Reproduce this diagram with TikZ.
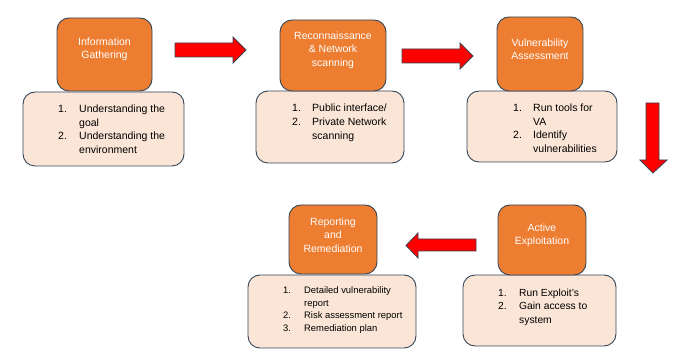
\documentclass[tikz,border=0pt]{standalone}
\usepackage{fontspec}
\setmainfont{Liberation Sans}
\usepackage{array}
\definecolor{orangefill}{HTML}{ED7D31}
\definecolor{lightfill}{HTML}{FBE5D6}
\definecolor{edge}{HTML}{34465A}
\definecolor{arrowred}{HTML}{FF0000}
\definecolor{arrowedge}{HTML}{3C4050}
\begin{document}
\begin{tikzpicture}[x=1pt,y=-1pt,
  titlebox/.style={draw=edge, line width=0.9pt, fill=orangefill, rounded corners=12pt, inner sep=0pt},
  listbox/.style={draw=edge, line width=0.9pt, fill=lightfill, rounded corners=12pt, inner sep=0pt},
  titletext/.style={text=white, align=center, inner sep=0pt, font=\fontsize{10.5}{13.5}\selectfont},
  listtext/.style={anchor=base west, inner sep=0pt, text=black},
  redarrow/.style={draw=arrowedge, line width=0.8pt, fill=arrowred, line join=miter}]
\useasboundingbox (0,0) rectangle (673,363);

% light list boxes (drawn first)
\node[listbox, minimum width=161pt, minimum height=74pt] (l1) at (103.5,129) {};
\node[listbox, minimum width=148pt, minimum height=72pt] (l2) at (330,127) {};
\node[listbox, minimum width=150pt, minimum height=71pt] (l3) at (542,126.5) {};
\node[listbox, minimum width=153pt, minimum height=71pt] (l4) at (539.5,310.5) {};
\node[listbox, minimum width=168pt, minimum height=73pt] (l5) at (332,311.5) {};

% orange title boxes
\node[titlebox, minimum width=95pt, minimum height=73pt] (o1) at (104.5,54.5) {};
\node[titlebox, minimum width=106pt, minimum height=71pt] (o2) at (333,55.5) {};
\node[titlebox, minimum width=86pt, minimum height=74pt] (o3) at (540,54) {};
\node[titlebox, minimum width=88pt, minimum height=70pt] (o4) at (542,240) {};
\node[titlebox, minimum width=88pt, minimum height=69pt] (o5) at (333,239.5) {};

% titles
\node[titletext] (t1) at (104.5,49.5) {Information\\Gathering};
\node[titletext] (t2) at (333,50) {Reconnaissance\\\& Network\\scanning};
\node[titletext] (t3) at (540,49.5) {Vulnerability\\Assessment};
\node[titletext] (t4) at (542,235.5) {Active\\Exploitation};
\node[titletext] (t5) at (333,235) {Reporting\\and\\Remediation};

% lists
\node[listtext] (x1) at (58,113) {\fontsize{10.5}{13.5}\selectfont
  \begin{tabular}[t]{@{}p{21pt}@{}l@{}}1. & Understanding the\\ & goal\\ 2. & Understanding the\\ & environment\end{tabular}};
\node[listtext] (x2) at (292,111.5) {\fontsize{10.5}{13.8}\selectfont
  \begin{tabular}[t]{@{}p{20pt}@{}l@{}}1. & Public interface/\\ 2. & Private Network\\ & scanning\end{tabular}};
\node[listtext] (x3) at (513,111.5) {\fontsize{10.5}{13.6}\selectfont
  \begin{tabular}[t]{@{}p{20pt}@{}l@{}}1. & Run tools for\\ & VA\\ 2. & Identify\\ & vulnerabilities\end{tabular}};
\node[listtext] (x4) at (498,296.5) {\fontsize{10.3}{13.5}\selectfont
  \begin{tabular}[t]{@{}p{21pt}@{}l@{}}1. & Run Exploit's\\ 2. & Gain access to\\ & system\end{tabular}};
\node[listtext] (x5) at (283,293.5) {\fontsize{9.4}{12.7}\selectfont
  \begin{tabular}[t]{@{}p{21pt}@{}l@{}}1. & Detailed vulnerability\\ & report\\ 2. & Risk assessment report\\ 3. & Remediation plan\end{tabular}};

% block arrows
\draw[redarrow] (175,43) -- (233,43) -- (233,37) -- (246,50) -- (233,63) -- (233,57) -- (175,57) -- cycle;
\draw[redarrow] (402,49) -- (460,49) -- (460,43) -- (473,56) -- (460,69) -- (460,63) -- (402,63) -- cycle;
\draw[redarrow] (646,103) -- (659,103) -- (659,160) -- (667,160) -- (653,173) -- (640,160) -- (646,160) -- cycle;
\draw[redarrow] (476,239) -- (418,239) -- (418,233) -- (406,245.5) -- (418,258) -- (418,251) -- (476,251) -- cycle;
\end{tikzpicture}
\end{document}
